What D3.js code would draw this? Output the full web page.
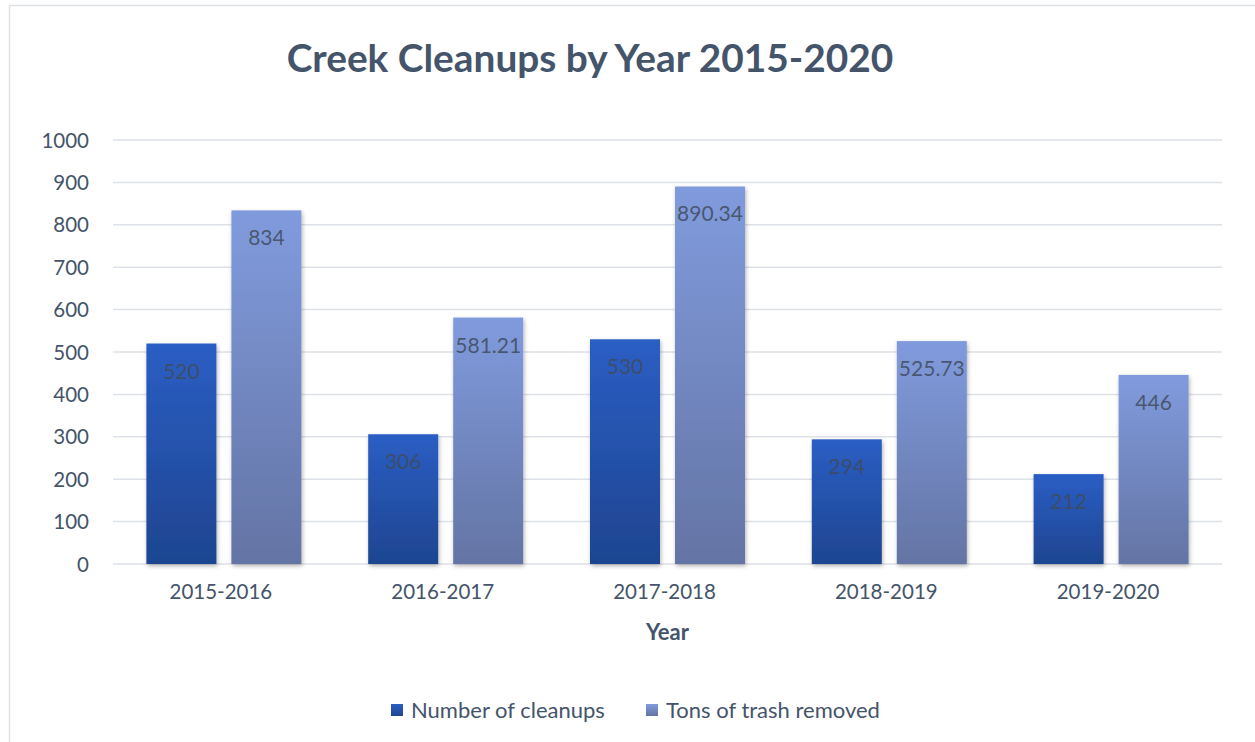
<!DOCTYPE html>
<html>
<head>
<meta charset="utf-8">
<script src="https://cdn.jsdelivr.net/npm/d3@7"></script>
<style>
  body { margin: 0; background: #fff; }
  text { font-family: Lato, "Open Sans", sans-serif; }
</style>
</head>
<body>
<div id="chart"></div>
<script>
var years = ["2015-2016", "2016-2017", "2017-2018", "2018-2019", "2019-2020"];
var cleanups = [520, 306, 530, 294, 212];
var tons = [834, 581.21, 890.34, 525.73, 446];
var seriesNames = ["Number of cleanups", "Tons of trash removed"];
var yTicks = [0, 100, 200, 300, 400, 500, 600, 700, 800, 900, 1000];

var width = 1255, height = 742;
var margin = {top: 140, right: 33, bottom: 178, left: 113};
var textColor = "#44546A";

var svg = d3.select("#chart")
  .append("svg")
    .attr("width", width)
    .attr("height", height);

var defs = svg.append("defs");

// bar gradients, lighter at the top
var grads = [
  {id: "g0", top: "#2B5EC4", bottom: "#1E4590"},
  {id: "g1", top: "#809BDD", bottom: "#6474A4"}
];
grads.forEach(function(g) {
  var lg = defs.append("linearGradient")
    .attr("id", g.id)
    .attr("x1", 0).attr("y1", 0).attr("x2", 0).attr("y2", 1);
  lg.append("stop").attr("offset", "0%").attr("stop-color", g.top);
  lg.append("stop").attr("offset", "100%").attr("stop-color", g.bottom);
});

defs.append("filter")
  .attr("id", "shadow")
  .attr("x", "-20%").attr("y", "-5%").attr("width", "140%").attr("height", "115%")
  .append("feDropShadow")
    .attr("dx", 1).attr("dy", 2)
    .attr("stdDeviation", 2)
    .attr("flood-color", "#000")
    .attr("flood-opacity", 0.3);

// outer frame
svg.append("rect")
  .attr("x", 9.5).attr("y", 5.5)
  .attr("width", width).attr("height", height)
  .attr("fill", "none")
  .attr("stroke", "#DDE2EA")
  .attr("stroke-width", 1.5);

// title
svg.append("text")
  .attr("x", 590)
  .attr("y", 72)
  .attr("text-anchor", "middle")
  .attr("font-size", 38.8)
  .attr("font-weight", "bold")
  .attr("fill", textColor)
  .text("Creek Cleanups by Year 2015-2020");

var x = d3.scaleBand()
  .domain(years)
  .range([margin.left, width - margin.right]);

// two bars of 70px with a 15px gap, centred in each band
var groupW = 155;
var xSub = d3.scaleBand()
  .domain([0, 1])
  .range([(x.bandwidth() - groupW) / 2, (x.bandwidth() + groupW) / 2])
  .paddingInner(0.1765);

var y = d3.scaleLinear()
  .domain([0, 1000])
  .range([height - margin.bottom, margin.top]);

// gridlines
svg.append("g")
  .selectAll("line")
  .data(yTicks)
  .enter()
  .append("line")
    .attr("x1", margin.left)
    .attr("x2", width - margin.right)
    .attr("y1", function(d) { return y(d); })
    .attr("y2", function(d) { return y(d); })
    .attr("stroke", "#DDE1E8")
    .attr("stroke-width", 1.5);

// y axis labels
var yAxis = d3.axisLeft(y)
  .tickValues(yTicks)
  .tickFormat(d3.format("d"))
  .tickSize(0)
  .tickPadding(0);

var yg = svg.append("g")
  .attr("transform", "translate(89,0)")
  .call(yAxis);
yg.select(".domain").remove();
yg.selectAll("text")
  .attr("font-size", 20.5)
  .attr("font-family", "Lato, sans-serif")
  .attr("fill", textColor)
  .attr("dy", "0.35em");

// x axis labels
var xAxis = d3.axisBottom(x).tickSize(0).tickPadding(0);
var xg = svg.append("g")
  .attr("transform", "translate(-3," + (height - margin.bottom + 20) + ")")
  .call(xAxis);
xg.select(".domain").remove();
xg.selectAll("text")
  .attr("font-size", 20.5)
  .attr("font-family", "Lato, sans-serif")
  .attr("fill", textColor);

svg.append("text")
  .attr("x", (margin.left + width - margin.right) / 2)
  .attr("y", 640)
  .attr("text-anchor", "middle")
  .attr("font-size", 22)
  .attr("font-weight", "bold")
  .attr("fill", textColor)
  .text("Year");

// bars
var series = [cleanups, tons];
series.forEach(function(vals, s) {
  var g = svg.append("g");
  g.selectAll("rect")
    .data(vals)
    .enter()
    .append("rect")
      .attr("x", function(d, i) { return x(years[i]) + xSub(s); })
      .attr("y", function(d) { return y(d); })
      .attr("width", xSub.bandwidth())
      .attr("height", function(d) { return y(0) - y(d); })
      .attr("fill", "url(#" + grads[s].id + ")")
      .attr("filter", "url(#shadow)");

  g.selectAll("text")
    .data(vals)
    .enter()
    .append("text")
      .attr("x", function(d, i) { return x(years[i]) + xSub(s) + xSub.bandwidth() / 2; })
      .attr("y", function(d) { return y(d) + 35; })
      .attr("text-anchor", "middle")
      .attr("font-size", 21)
      .attr("fill", "#404B5C")
      .attr("fill-opacity", 0.85)
      .text(function(d) { return d; });
});

// legend
var legendX = [391, 646];
var legend = svg.append("g");
seriesNames.forEach(function(name, s) {
  legend.append("rect")
    .attr("x", legendX[s])
    .attr("y", 704)
    .attr("width", 12)
    .attr("height", 12)
    .attr("fill", "url(#" + grads[s].id + ")");
  legend.append("text")
    .attr("x", legendX[s] + 20)
    .attr("y", 718)
    .attr("font-size", 22)
    .attr("fill", textColor)
    .text(name);
});
</script>
</body>
</html>
